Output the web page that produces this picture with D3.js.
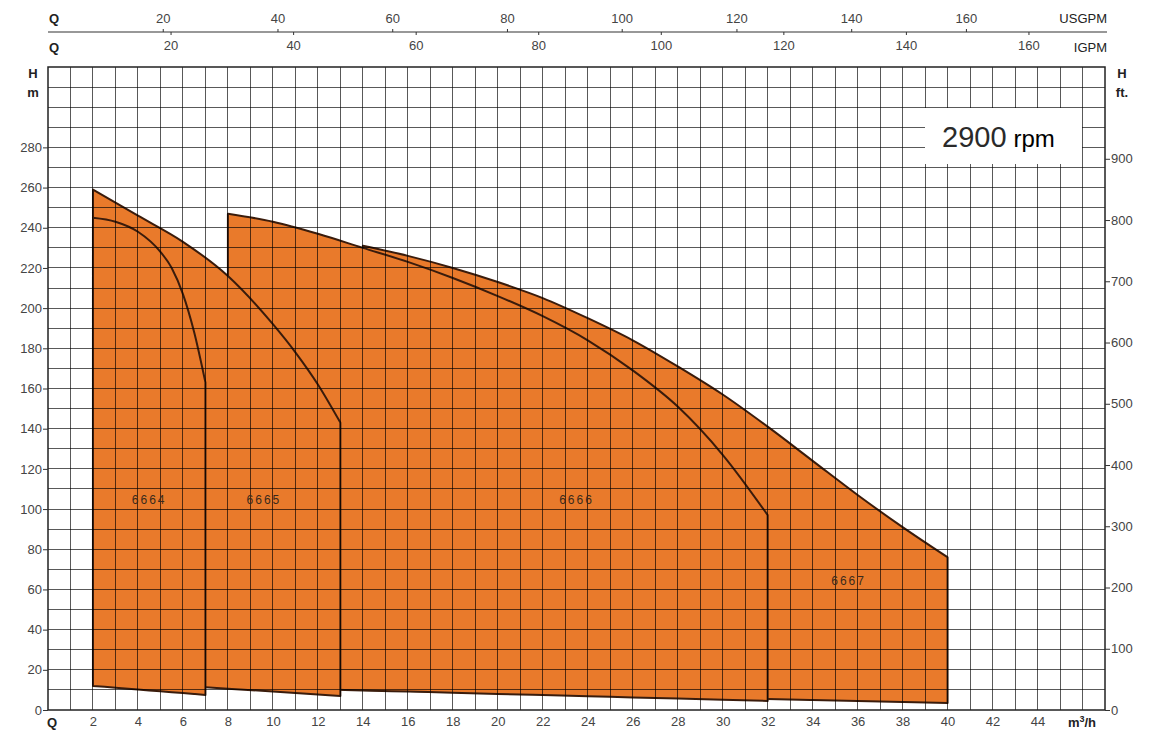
<!DOCTYPE html>
<html>
<head>
<meta charset="utf-8">
<script src="https://cdn.jsdelivr.net/npm/d3@7"></script>
<style>
  body { margin: 0; background: #fff; }
  svg { font-family: "Liberation Sans", Arial, sans-serif; }
</style>
</head>
<body>
<div id="chart"></div>
<script>
// ---- data ----
const models = ["6664", "6665", "6666", "6667"];

// top curves, [Q m3/h, H m]
const curve6664 = [[2,245],[3,243],[4,238],[5,228],[5.5,220],[6,207],[6.5,188],[7,163]];
const curve6665 = [[2,259],[4,246],[6,233],[8,216],[10,192],[11,178],[12,162],[13,143]];
const curve6666 = [[8,247],[10,243],[12,237],[14,230],[16,223],[18,215],[20,206],[22,196],[24,184],[26,169],[28,151],[30,127],[32,97]];
const curve6667 = [[14,231],[16,226],[18,220],[20,213],[22,205],[24,195],[26,184],[28,171],[30,157],[32,141],[34,124],[36,107],[38,91],[40,76]];

// lower limit lines, [Q, H] at both ends
const bottom6664 = [[2,12],[7,7.5]];
const bottom6665 = [[2,15],[13,7]];
const bottom6666 = [[8,11.5],[32,4.5]];
const bottom6667 = [[14,10],[40,3.5]];

// label anchor per model [Q, H]
const labelPos = [[4.5,104],[9.6,104],[23.5,104],[35.6,64]];

const qTicks = [2,4,6,8,10,12,14,16,18,20,22,24,26,28,30,32,34,36,38,40,42,44];
const hTicks = [0,20,40,60,80,100,120,140,160,180,200,220,240,260,280];
const ftTicks = [0,100,200,300,400,500,600,700,800,900];
const usgpmTicks = [20,40,60,80,100,120,140,160];
const igpmTicks = [20,40,60,80,100,120,140,160];
const usgpmPerM3h = 3.92;   // as printed on the sheet
const igpmPerM3h = 3.67;

const curves = [curve6664, curve6665, curve6666, curve6667];
const bottoms = [bottom6664, bottom6665, bottom6666, bottom6667];

// ---- layout ----
const W = 1157, H = 738;
const pLeft = 48, pRight = 1105, pTop = 67, pBottom = 710;
const qMax = 47, hMax = 320;

const svg = d3.select("#chart").append("svg")
    .attr("width", W).attr("height", H);

const x = d3.scaleLinear().domain([0, qMax]).range([pLeft, pRight]);
const y = d3.scaleLinear().domain([0, hMax]).range([pBottom, pTop]);
const yFt = d3.scaleLinear().domain([0, hMax / 0.3048]).range([pBottom, pTop]);
const xUs = d3.scaleLinear().domain([0, qMax * usgpmPerM3h]).range([pLeft, pRight]);
const xImp = d3.scaleLinear().domain([0, qMax * igpmPerM3h]).range([pLeft, pRight]);

const orange = "#e97a2b", edge = "#3a1c0c";

// ---- bands (drawn back to front so inner edges get covered) ----
function bottomAt(b, q) {
  const t = (q - b[0][0]) / (b[1][0] - b[0][0]);
  return b[0][1] + t * (b[1][1] - b[0][1]);
}

const area = d3.area()
    .x(d => x(d[0]))
    .y0(d => y(d[2]))
    .y1(d => y(d[1]))
    .curve(d3.curveMonotoneX);

const bands = svg.append("g");
[3, 2, 1, 0].forEach(i => {
  const pts = curves[i].map(d => [d[0], d[1], bottomAt(bottoms[i], d[0])]);
  bands.append("path")
      .attr("d", area(pts))
      .attr("fill", orange)
      .attr("stroke", edge)
      .attr("stroke-width", 2)
      .attr("stroke-linejoin", "round");
});

// ---- grid ----
const grid = svg.append("g")
    .attr("stroke", "#000")
    .attr("stroke-opacity", 0.65)
    .attr("stroke-width", 1)
    .attr("shape-rendering", "crispEdges");

grid.selectAll(".v").data(d3.range(1, 47)).enter().append("line")
    .attr("x1", d => x(d)).attr("x2", d => x(d))
    .attr("y1", pTop).attr("y2", pBottom);
grid.selectAll(".h").data(d3.range(10, 320, 10)).enter().append("line")
    .attr("x1", pLeft).attr("x2", pRight)
    .attr("y1", d => y(d)).attr("y2", d => y(d));

svg.append("rect")
    .attr("x", pLeft).attr("y", pTop)
    .attr("width", pRight - pLeft).attr("height", pBottom - pTop)
    .attr("fill", "none").attr("stroke", "#222").attr("stroke-width", 1.5);

// ---- model labels ----
svg.append("g").selectAll("text").data(models).enter().append("text")
    .attr("x", (d, i) => x(labelPos[i][0]))
    .attr("y", (d, i) => y(labelPos[i][1]))
    .attr("text-anchor", "middle")
    .attr("dominant-baseline", "middle")
    .attr("font-size", 12)
    .attr("letter-spacing", 2)
    .attr("fill", "#3a2a1c")
    .text(d => d);

// ---- axes ----
function styleAxis(g) {
  g.select(".domain").remove();
  g.selectAll(".tick line").attr("stroke", "#333");
  g.selectAll(".tick text").attr("fill", "#444").attr("font-size", 13)
      .attr("font-family", "Liberation Sans, Arial, sans-serif");
}

svg.append("g")
    .attr("transform", `translate(0,${pBottom})`)
    .call(d3.axisBottom(x).tickValues(qTicks).tickSize(0).tickPadding(7))
    .call(styleAxis);

svg.append("g")
    .attr("transform", `translate(${pLeft},0)`)
    .call(d3.axisLeft(y).tickValues(hTicks).tickSize(5).tickPadding(1))
    .call(styleAxis);

svg.append("g")
    .attr("transform", `translate(${pRight},0)`)
    .call(d3.axisRight(yFt).tickValues(ftTicks).tickSize(5).tickPadding(1))
    .call(styleAxis);

// top flow scales
const topLine = 32;
svg.append("line")
    .attr("x1", pLeft).attr("x2", pRight + 2)
    .attr("y1", topLine).attr("y2", topLine)
    .attr("stroke", "#333").attr("stroke-width", 1.2);

svg.append("g")
    .attr("transform", `translate(0,${topLine})`)
    .call(d3.axisTop(xUs).tickValues(usgpmTicks).tickSize(3).tickPadding(6))
    .call(styleAxis);

svg.append("g")
    .attr("transform", `translate(0,${topLine})`)
    .call(d3.axisBottom(xImp).tickValues(igpmTicks).tickSize(3).tickPadding(6))
    .call(styleAxis);

// unit labels
const unit = svg.append("g").attr("fill", "#222").attr("font-size", 13);
unit.append("text").attr("x", 49).attr("y", 23).attr("font-weight", "bold").text("Q");
unit.append("text").attr("x", 49).attr("y", 52).attr("font-weight", "bold").text("Q");
unit.append("text").attr("x", 1107).attr("y", 23).attr("text-anchor", "end").text("USGPM");
unit.append("text").attr("x", 1107).attr("y", 52).attr("text-anchor", "end").text("IGPM");
unit.append("text").attr("x", 33).attr("y", 78).attr("text-anchor", "middle").attr("font-weight", "bold").text("H");
unit.append("text").attr("x", 33).attr("y", 97).attr("text-anchor", "middle").attr("font-weight", "bold").text("m");
unit.append("text").attr("x", 1122).attr("y", 78).attr("text-anchor", "middle").attr("font-weight", "bold").text("H");
unit.append("text").attr("x", 1122).attr("y", 97).attr("text-anchor", "middle").attr("font-weight", "bold").text("ft.");
unit.append("text").attr("x", 52).attr("y", 727).attr("text-anchor", "middle").attr("font-weight", "bold").text("Q");
unit.append("text").attr("x", 1082).attr("y", 727).attr("text-anchor", "middle").attr("font-weight", "bold")
    .html("m<tspan font-size='9' dy='-5'>3</tspan><tspan dy='5'>/h</tspan>");

// speed box
svg.append("rect")
    .attr("x", 925).attr("y", 108).attr("width", 157).attr("height", 56)
    .attr("fill", "#fff");
const rpm = svg.append("text").attr("x", 942).attr("y", 147);
rpm.append("tspan").attr("font-size", 29).attr("fill", "#2a2a2a").text("2900");
rpm.append("tspan").attr("font-size", 24).attr("fill", "#000").attr("dx", 7).text("rpm");
</script>
</body>
</html>
